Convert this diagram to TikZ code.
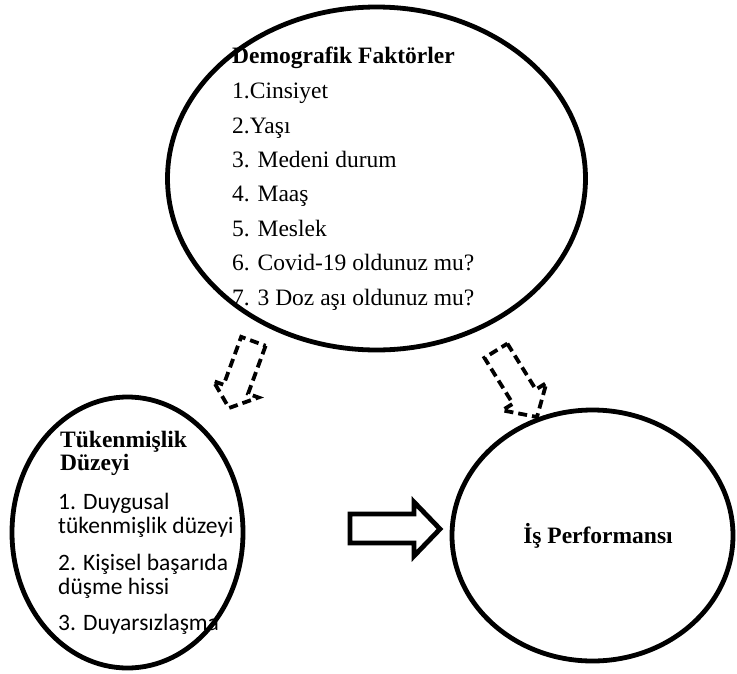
\documentclass[tikz,border=0pt]{standalone}
\usepackage{fontspec}
\setmainfont{Liberation Serif}
\newfontfamily\carl{Carlito}
\usetikzlibrary{shapes.geometric}
\begin{document}
\begin{tikzpicture}[x=1pt,y=-1pt,
  oval/.style={draw, ellipse, line width=4.8pt, inner sep=0pt},
  txt/.style={anchor=base west, inner sep=0pt, font=\fontsize{23.5}{28}\selectfont},
  btxt/.style={anchor=base west, inner sep=0pt, font=\fontsize{23.5}{28}\selectfont\bfseries},
  stxt/.style={anchor=base west, inner sep=0pt, font=\carl\fontsize{23.5}{28}\selectfont},
  dasharrow/.style={draw, line width=3.8pt, dash pattern=on 9pt off 5pt, line join=miter},
  blockarrow/.style={draw, line width=4.8pt, line join=miter}]
\useasboundingbox (0,0) rectangle (737,673);

% ellipses
\node[oval, minimum width=418pt, minimum height=343pt] (demo) at (376.5,178.5) {};
\node[oval, minimum width=231pt, minimum height=271pt] (tuk) at (127.5,532.5) {};
\node[oval, minimum width=281pt, minimum height=251pt] (perf) at (592.5,535.5) {};

% top text
\node[btxt] (d0) at (232,63) {Demografik Faktörler};
\node[txt] (d1) at (232,98) {1.Cinsiyet};
\node[txt] (d2) at (232,133) {2.Yaşı};
\node[txt] (d3) at (232,167) {3. Medeni durum};
\node[txt] (d4) at (232,201) {4. Maaş};
\node[txt] (d5) at (232,236) {5. Meslek};
\node[txt] (d6) at (232,270) {6. Covid-19 oldunuz mu?};
\node[txt] (d7) at (232,305) {7. 3 Doz aşı oldunuz mu?};

% left text
\node[btxt] (t0) at (60,447) {Tükenmişlik};
\node[btxt] (t1) at (60,470) {Düzeyi};
\node[stxt] (t2) at (58,509) {1. Duygusal};
\node[stxt] (t3) at (58,533) {tükenmişlik düzeyi};
\node[stxt] (t4) at (58,570) {2. Kişisel başarıda};
\node[stxt] (t5) at (58,594) {düşme hissi};
\node[stxt] (t6) at (58,630) {3. Duyarsızlaşma};

% right text
\node[anchor=base, inner sep=0pt, font=\fontsize{23.5}{28}\selectfont\bfseries] (p0) at (598,543) {İş Performansı};

% dashed block arrows
\coordinate (ltip) at (229,408);
\coordinate (rtip) at (537,417);
\begin{scope}[shift={(ltip)}, rotate=-110.1]
  \draw[dasharrow] (-71,-13) -- (-20,-13) -- (-20,-24) -- (0,0) -- (-20,24) -- (-20,13) -- (-71,13) -- cycle;
\end{scope}
\begin{scope}[shift={(rtip)}, rotate=-58.2]
  \draw[dasharrow] (-78,-13.5) -- (-24,-13.5) -- (-24,-26) -- (0,0) -- (-24,26) -- (-24,13.5) -- (-78,13.5) -- cycle;
\end{scope}

% solid block arrow
\coordinate (btail) at (350,528.5);
\draw[blockarrow] (btail) ++(0,-14.5) -- (414,514) -- (414,502) -- (440,529) -- (414,556) -- (414,543) -- (350,543) -- cycle;
\end{tikzpicture}
\end{document}
